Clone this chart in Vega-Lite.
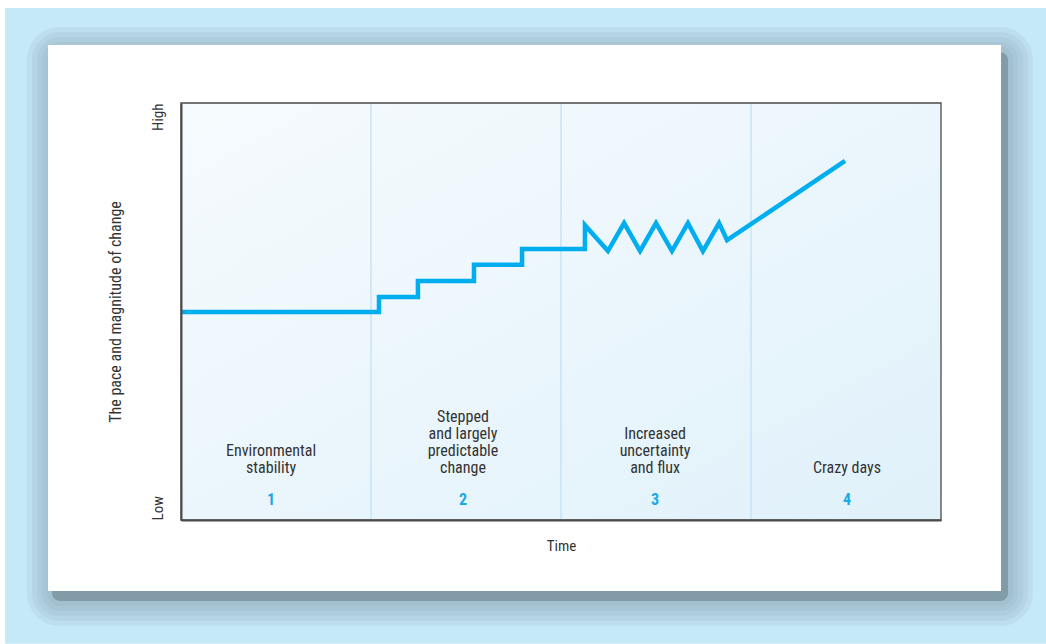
{
  "$schema": "https://vega.github.io/schema/vega-lite/v6.json",
  "width": 760,
  "height": 417,
  "autosize": {"type": "none"},
  "padding": {"left": 181, "top": 103, "right": 105, "bottom": 124},
  "background": "#ffffff",
  "config": {
    "font": "Liberation Sans Narrow, Roboto Condensed, Roboto, sans-serif",
    "view": {"stroke": null}
  },
  "data": {"values": [{"panel": "frame"}]},
  "datasets": {
    "path": [
      {"order": 1, "t": 0, "v": 49.9},
      {"order": 2, "t": 1.042, "v": 49.9},
      {"order": 3, "t": 1.042, "v": 53.5},
      {"order": 4, "t": 1.247, "v": 53.5},
      {"order": 5, "t": 1.247, "v": 57.3},
      {"order": 6, "t": 1.542, "v": 57.3},
      {"order": 7, "t": 1.542, "v": 61.2},
      {"order": 8, "t": 1.795, "v": 61.2},
      {"order": 9, "t": 1.795, "v": 65.0},
      {"order": 10, "t": 2.126, "v": 65.0},
      {"order": 11, "t": 2.126, "v": 70.7},
      {"order": 12, "t": 2.247, "v": 64.5},
      {"order": 13, "t": 2.332, "v": 71.2},
      {"order": 14, "t": 2.416, "v": 64.5},
      {"order": 15, "t": 2.5, "v": 71.2},
      {"order": 16, "t": 2.584, "v": 64.5},
      {"order": 17, "t": 2.668, "v": 71.2},
      {"order": 18, "t": 2.747, "v": 64.5},
      {"order": 19, "t": 2.832, "v": 71.2},
      {"order": 20, "t": 2.874, "v": 67.1},
      {"order": 21, "t": 3.495, "v": 86.1}
    ],
    "phases": [
      {"t": 0.474, "num": "1", "label": "Environmental\nstability"},
      {"t": 1.484, "num": "2", "label": "Stepped\nand largely\npredictable\nchange"},
      {"t": 2.495, "num": "3", "label": "Increased\nuncertainty\nand flux"},
      {"t": 3.505, "num": "4", "label": "Crazy days"}
    ],
    "dividers": [{"t": 1}, {"t": 2}, {"t": 3}]
  },
  "layer": [
    {
      "mark": {"type": "rect", "clip": false, "color": "#c6e9f8"},
      "encoding": {
        "x": {
          "datum": -0.926, "type": "quantitative",
          "scale": {"domain": [0, 4], "nice": false, "zero": false},
          "axis": {
            "title": "Time", "labels": false, "ticks": false, "grid": false, "zindex": 2,
            "domainColor": "#4a4a4a", "domainWidth": 2,
            "titleFontWeight": "normal", "titleFontSize": 15, "titleColor": "#333333",
            "titlePadding": 18
          }
        },
        "x2": {"datum": 4.553},
        "y": {
          "datum": 122.8, "type": "quantitative",
          "scale": {"domain": [0, 100], "nice": false, "zero": false},
          "axis": {
            "title": "The pace and magnitude of change",
            "values": [0, 100],
            "labelExpr": "datum.value == 0 ? 'Low' : 'High'",
            "labelAngle": 270,
            "labelAlign": {"condition": {"test": "datum.value == 0", "value": "left"}, "value": "right"},
            "labelBaseline": "bottom",
            "labelFontSize": 15, "labelColor": "#333333",
            "labelPadding": 16,
            "ticks": false, "grid": false, "zindex": 2,
            "domainColor": "#4a4a4a", "domainWidth": 2,
            "titleFontWeight": "normal", "titleFontSize": 16, "titleColor": "#333333",
            "titlePadding": 27
          }
        },
        "y2": {"datum": -29.7}
      }
    },
    {
      "mark": {"type": "rect", "clip": false, "color": "#829ba9", "opacity": 0.13, "cornerRadius": 33},
      "encoding": {
        "x": {"datum": -0.811, "type": "quantitative"}, "x2": {"datum": 4.484},
        "y": {"datum": 118.2, "type": "quantitative"}, "y2": {"datum": -25.42}
      }
    },
    {
      "mark": {"type": "rect", "clip": false, "color": "#829ba9", "opacity": 0.13, "cornerRadius": 28},
      "encoding": {
        "x": {"datum": -0.784, "type": "quantitative"}, "x2": {"datum": 4.458},
        "y": {"datum": 117.0, "type": "quantitative"}, "y2": {"datum": -24.22}
      }
    },
    {
      "mark": {"type": "rect", "clip": false, "color": "#829ba9", "opacity": 0.13, "cornerRadius": 23},
      "encoding": {
        "x": {"datum": -0.758, "type": "quantitative"}, "x2": {"datum": 4.432},
        "y": {"datum": 115.8, "type": "quantitative"}, "y2": {"datum": -23.02}
      }
    },
    {
      "mark": {"type": "rect", "clip": false, "color": "#829ba9", "opacity": 0.13, "cornerRadius": 18},
      "encoding": {
        "x": {"datum": -0.732, "type": "quantitative"}, "x2": {"datum": 4.405},
        "y": {"datum": 114.6, "type": "quantitative"}, "y2": {"datum": -21.82}
      }
    },
    {
      "mark": {"type": "rect", "clip": false, "color": "#829ba9", "opacity": 0.13, "cornerRadius": 13},
      "encoding": {
        "x": {"datum": -0.705, "type": "quantitative"}, "x2": {"datum": 4.379},
        "y": {"datum": 113.4, "type": "quantitative"}, "y2": {"datum": -20.62}
      }
    },
    {
      "mark": {"type": "rect", "clip": false, "color": "#829ba9", "cornerRadius": 8},
      "encoding": {
        "x": {"datum": -0.679, "type": "quantitative"}, "x2": {"datum": 4.353},
        "y": {"datum": 112.2, "type": "quantitative"}, "y2": {"datum": -19.42}
      }
    },
    {
      "mark": {"type": "rect", "clip": false, "color": "#ffffff"},
      "encoding": {
        "x": {"datum": -0.7, "type": "quantitative"}, "x2": {"datum": 4.316},
        "y": {"datum": 113.9, "type": "quantitative"}, "y2": {"datum": -17.0}
      }
    },
    {
      "mark": {
        "type": "rect",
        "color": {
          "gradient": "linear", "x1": 0, "y1": 0, "x2": 1, "y2": 1,
          "stops": [{"offset": 0, "color": "#f6fbfe"}, {"offset": 1, "color": "#e0f1fa"}]
        }
      },
      "encoding": {
        "x": {"datum": 0, "type": "quantitative"}, "x2": {"datum": 4},
        "y": {"datum": 100, "type": "quantitative"}, "y2": {"datum": 0}
      }
    },
    {
      "data": {"name": "dividers"},
      "mark": {"type": "rule", "color": "#c5e5f6", "strokeWidth": 1.5},
      "encoding": {"x": {"field": "t", "type": "quantitative"}}
    },
    {
      "mark": {"type": "rect", "clip": false, "fillOpacity": 0, "stroke": "#4a4a4a", "strokeWidth": 1.3},
      "encoding": {
        "x": {"datum": 0, "type": "quantitative"}, "x2": {"datum": 4},
        "y": {"datum": 100, "type": "quantitative"}, "y2": {"datum": 0}
      }
    },
    {
      "data": {"name": "path"},
      "mark": {"type": "line", "color": "#00aeef", "strokeWidth": 4.5, "strokeJoin": "miter", "strokeCap": "butt"},
      "encoding": {
        "x": {"field": "t", "type": "quantitative"},
        "y": {"field": "v", "type": "quantitative"},
        "order": {"field": "order", "type": "quantitative"}
      }
    },
    {
      "data": {"name": "phases"},
      "mark": {
        "type": "text", "lineBreak": "\n", "baseline": "bottom", "align": "center",
        "fontSize": 16, "lineHeight": 17, "color": "#333333",
        "dy": {"expr": "-17 * (length(split(datum.label, '\\n')) - 1)"}
      },
      "encoding": {
        "x": {"field": "t", "type": "quantitative"},
        "y": {"datum": 10.55, "type": "quantitative"},
        "text": {"field": "label"}
      }
    },
    {
      "data": {"name": "phases"},
      "mark": {"type": "text", "baseline": "middle", "align": "center", "fontSize": 16, "fontWeight": "bold", "color": "#1aa9e2"},
      "encoding": {
        "x": {"field": "t", "type": "quantitative"},
        "y": {"datum": 4.8, "type": "quantitative"},
        "text": {"field": "num"}
      }
    }
  ]
}
